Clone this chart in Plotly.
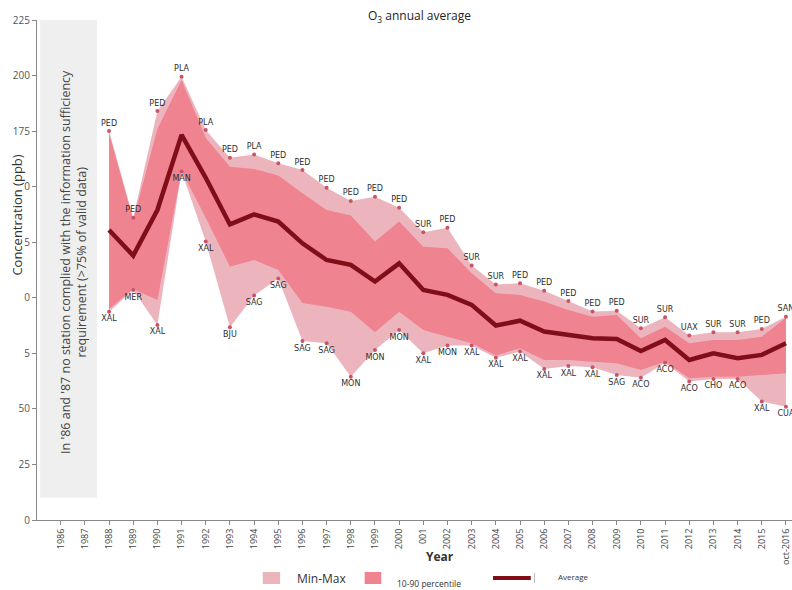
import plotly.graph_objects as go

# Axis categories
all_years = list(range(1986, 2017))
year_labels = ["1986", "1987", "1988", "1989", "1990", "1991", "1992", "1993", "1994",
               "1995", "1996", "1997", "1998", "1999", "2000", "001", "2002", "2003",
               "2004", "2005", "2006", "2007", "2008", "2009", "2010", "2011", "2012",
               "2013", "2014", "2015", "oct-2016"]
y_ticks = [0, 25, 50, 75, 100, 125, 150, 175, 200, 225]
y_tick_labels = ["0", "25", "50", "5", "0", "5", "0", "175", "200", "225"]

# Series (ppb), 1988-2016
years = list(range(1988, 2017))
max_vals = [175, 136, 184, 199.5, 175.5, 163, 164.5, 160.5, 157.5, 149.5, 143.6, 145.5,
            140.5, 129.5, 131.5, 114.5, 106, 106.5, 103.2, 98.5, 93.8, 94.2, 86.3, 91.2,
            83, 84.5, 84.5, 86, 91.5]
p90_vals = [174, 135, 176, 198, 172, 159, 158, 155, 147, 139.5, 137, 125.3, 134.3, 123,
            122.3, 111, 102, 101.3, 98.3, 94.5, 91.5, 92.3, 81.8, 87, 79.5, 81, 81, 82.5, 91]
avg_vals = [130.5, 119, 139.5, 173.3, 154, 133, 137.5, 134.3, 124.5, 117, 114.8, 107.3,
            115.5, 103.5, 101.3, 96.8, 87.5, 89.7, 84.8, 83.3, 81.8, 81.5, 76, 81, 72, 75,
            72.8, 74.3, 79.5]
p10_vals = [95, 104, 99, 157, 136, 114, 117, 112.5, 97.6, 96, 93.7, 84.5, 93.7, 85.5,
            82.5, 79.5, 74, 77.3, 72, 72, 71.2, 70.5, 67.5, 71.2, 63.8, 64.5, 64.5, 65.3, 66]
min_vals = [93.7, 103.5, 87.8, 156.8, 125.3, 86.7, 101, 108.7, 80.5, 79.5, 64.5, 76.5,
            85.5, 75, 78.5, 78.5, 73, 75.8, 68, 69.3, 68.7, 65.2, 64, 70.8, 62.3, 63.5,
            63.5, 53.3, 51]

# Stations registering the extreme values
max_stations = ["PED", "PED", "PED", "PLA", "PLA", "PED", "PLA", "PED", "PED", "PED",
                "PED", "PED", "PED", "SUR", "PED", "SUR", "SUR", "PED", "PED", "PED",
                "PED", "PED", "SUR", "SUR", "UAX", "SUR", "SUR", "PED", "SAN"]
min_stations = ["XAL", "MER", "XAL", "MAN", "XAL", "BJU", "SAG", "SAG", "SAG", "SAG",
                "MON", "MON", "MON", "XAL", "MON", "XAL", "XAL", "XAL", "XAL", "XAL",
                "XAL", "SAG", "ACO", "ACO", "ACO", "CHO", "ACO", "XAL", "CUA"]

LIGHT = "rgb(236,181,189)"
DARK = "rgb(239,131,144)"
LINE = "rgb(128,14,24)"
DOT = "rgb(200,84,104)"
label_font = dict(family="DejaVu Sans", size=8, color="#2e2e2e")

fig = go.Figure()

# Min-Max envelope
fig.add_trace(go.Scatter(x=years, y=min_vals, mode="lines", line=dict(width=0, color=LIGHT),
                         hoverinfo="skip", showlegend=False))
fig.add_trace(go.Scatter(x=years, y=max_vals, mode="lines", line=dict(width=0, color=LIGHT),
                         fill="tonexty", fillcolor=LIGHT, showlegend=False))
# 10-90 percentile band
fig.add_trace(go.Scatter(x=years, y=p10_vals, mode="lines", line=dict(width=0, color=DARK),
                         hoverinfo="skip", showlegend=False))
fig.add_trace(go.Scatter(x=years, y=p90_vals, mode="lines", line=dict(width=0, color=DARK),
                         fill="tonexty", fillcolor=DARK, showlegend=False))
# Average
fig.add_trace(go.Scatter(x=years, y=avg_vals, mode="lines", line=dict(width=4.5, color=LINE),
                         showlegend=False))
# Station markers and labels
fig.add_trace(go.Scatter(x=years, y=max_vals, mode="markers+text", text=max_stations,
                         textposition="top center", textfont=label_font,
                         marker=dict(size=4, color=DOT), showlegend=False, cliponaxis=False))
fig.add_trace(go.Scatter(x=years, y=min_vals, mode="markers+text", text=min_stations,
                         textposition="bottom center", textfont=label_font,
                         marker=dict(size=4, color=DOT), showlegend=False, cliponaxis=False))

# Years without valid data
fig.add_shape(type="rect", xref="x", yref="y", x0=1985.15, x1=1987.5, y0=10, y1=225,
              fillcolor="#efefef", line=dict(width=0), layer="below")
fig.add_annotation(x=1986.5, y=116, xref="x", yref="y", textangle=-90, showarrow=False,
                   xanchor="center", yanchor="middle",
                   text="In '86 and '87 no station complied with the information sufficiency"
                        "<br>requirement (>75% of valid data)",
                   font=dict(family="Open Sans", size=12.5, color="#444"))

# Titles
fig.add_annotation(x=0.507, y=1.008, xref="paper", yref="paper", showarrow=False,
                   xanchor="center", yanchor="middle",
                   text="O<sub>3</sub> annual average",
                   font=dict(family="Open Sans", size=12, color="#222"))
fig.add_annotation(x=-0.027, y=0.61, xref="paper", yref="paper", showarrow=False,
                   xanchor="center", yanchor="middle",
                   textangle=-90, text="Concentration (ppb)",
                   font=dict(family="Open Sans", size=13, color="#333"))
fig.add_annotation(x=0.534, y=-0.072, xref="paper", yref="paper", showarrow=False,
                   xanchor="center", yanchor="middle",
                   text="<b>Year</b>", font=dict(family="Open Sans", size=12, color="#333"))

# Legend
fig.add_shape(type="rect", xref="paper", yref="paper", x0=0.299, x1=0.322, y0=-0.104,
              y1=-0.128, fillcolor=LIGHT, line=dict(width=0))
fig.add_annotation(x=0.342, y=-0.116, xref="paper", yref="paper", showarrow=False,
                   xanchor="left", yanchor="middle", text="Min-Max",
                   font=dict(family="Open Sans", size=12, color="#333"))
fig.add_shape(type="rect", xref="paper", yref="paper", x0=0.434, x1=0.456, y0=-0.104,
              y1=-0.128, fillcolor=DARK, line=dict(width=0))
fig.add_annotation(x=0.474, y=-0.126, xref="paper", yref="paper", showarrow=False,
                   xanchor="left", yanchor="middle", text="10-90 percentile",
                   font=dict(family="Open Sans", size=8.5, color="#333"))
fig.add_shape(type="line", xref="paper", yref="paper", x0=0.604, x1=0.654, y0=-0.116,
              y1=-0.116, line=dict(width=4, color=LINE))
fig.add_shape(type="line", xref="paper", yref="paper", x0=0.659, x1=0.659, y0=-0.106,
              y1=-0.126, line=dict(width=1, color="#bbb"))
fig.add_annotation(x=0.688, y=-0.112, xref="paper", yref="paper", showarrow=False,
                   xanchor="left", yanchor="middle", text="Average",
                   font=dict(family="Open Sans", size=8, color="#333"))

fig.update_xaxes(range=[1985.02, 2016.25], tickvals=all_years, ticktext=year_labels,
                 tickangle=-90, ticks="outside", ticklen=4, tickcolor="#888",
                 showline=True, linecolor="#888", linewidth=1, showgrid=False,
                 zeroline=False, tickfont=dict(family="Open Sans", size=9, color="#444"))
fig.update_yaxes(range=[0, 225], tickvals=y_ticks, ticktext=y_tick_labels,
                 ticks="outside", ticklen=4, tickcolor="#888", showline=True,
                 linecolor="#888", linewidth=1, showgrid=False, zeroline=False,
                 tickfont=dict(family="Open Sans", size=10, color="#555"))

fig.update_layout(width=792, height=590, margin=dict(l=37, r=0, t=20, b=70),
                  plot_bgcolor="white", paper_bgcolor="white", showlegend=False)

fig.write_html("out.html")
